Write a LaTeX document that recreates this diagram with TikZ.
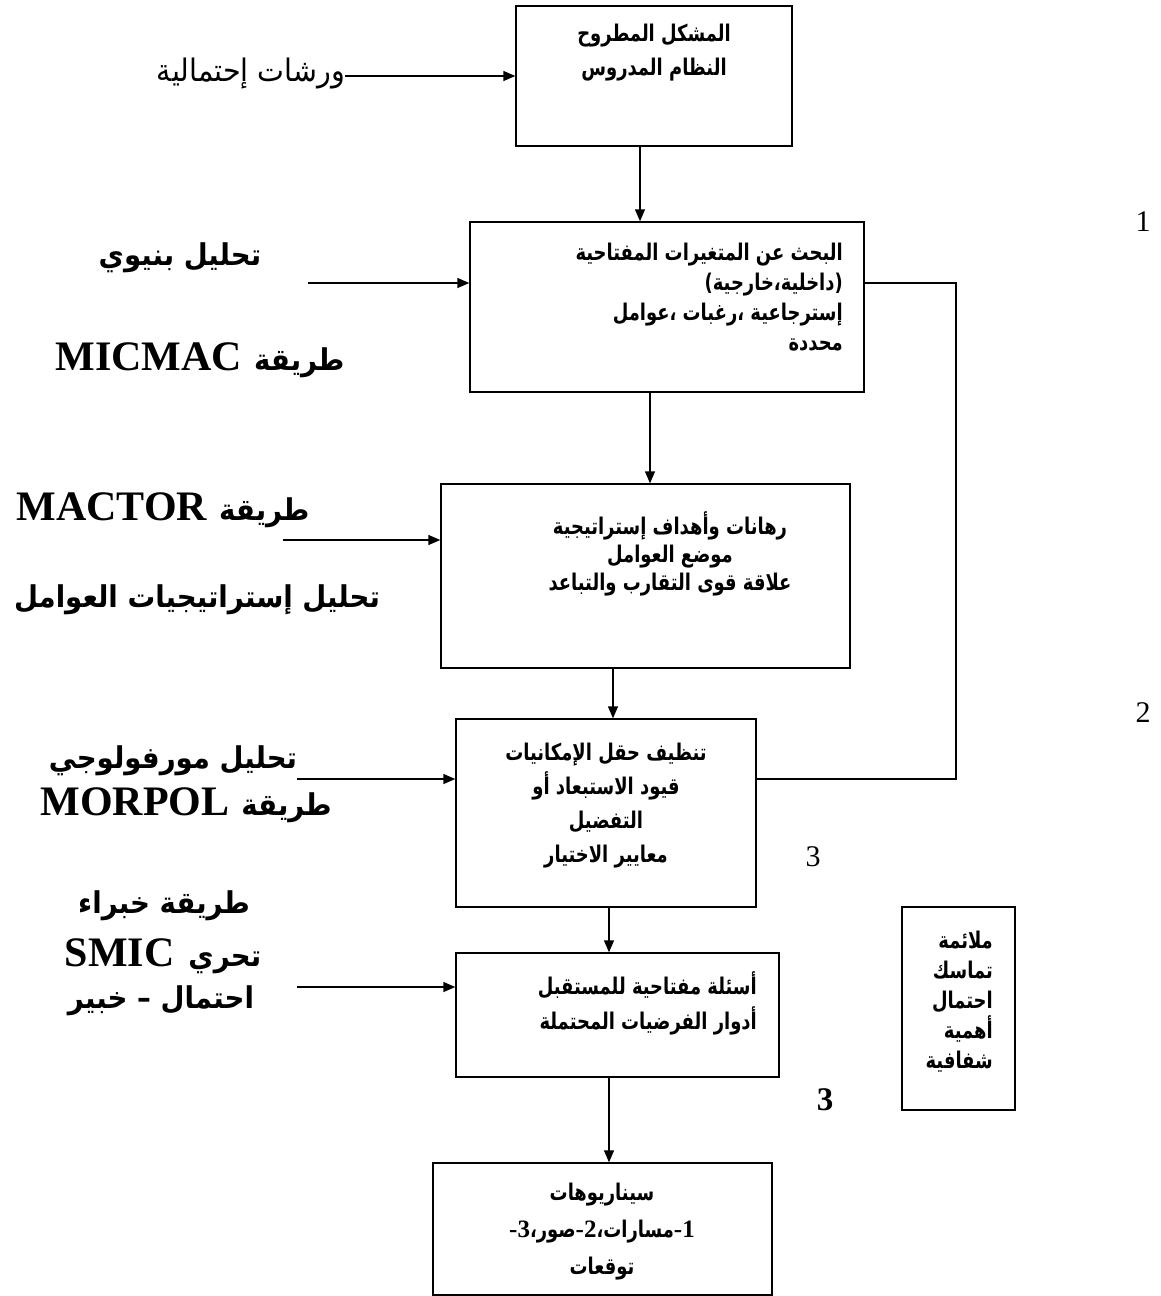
\documentclass[tikz,border=0pt]{standalone}
\usepackage{fontspec}
\usetikzlibrary{arrows.meta}
\TeXXeTstate=1
\setmainfont{Liberation Serif}
\newfontfamily\arf[Script=Arabic,FakeStretch=0.78]{DejaVu Sans}
\newfontfamily\arl[Script=Arabic,FakeStretch=0.92]{DejaVu Sans}
\newfontfamily\latf{Liberation Serif}
\newcommand\rl[1]{\beginR #1\endR}
\begin{document}
\begin{tikzpicture}[x=1pt,y=-1pt,
  box/.style={draw,line width=1.4pt,inner sep=0pt},
  arr/.style={-{Triangle[length=12pt,width=10pt]},line width=1.4pt},
  con/.style={line width=1.4pt},
  btxt/.style={inner sep=0pt},
  lab/.style={font=\arl\bfseries\fontsize{30}{40}\selectfont,inner sep=0pt},
  num/.style={font=\latf\fontsize{30}{30}\selectfont,inner sep=0pt}]
\fill[white] (0,0) rectangle (1161,1296);
\useasboundingbox (0,0) rectangle (1161,1296);

% boxes
\node[box,minimum width=276pt,minimum height=140pt] (b1) at (654,76) {};
\node[box,minimum width=394pt,minimum height=170pt] (b2) at (667,307) {};
\node[box,minimum width=409pt,minimum height=184pt] (b3) at (645.5,576) {};
\node[box,minimum width=300pt,minimum height=188pt] (b4) at (606,813) {};
\node[box,minimum width=323pt,minimum height=124pt] (b5) at (617.5,1015) {};
\node[box,minimum width=339pt,minimum height=132pt] (b6) at (602.5,1229) {};
\node[box,minimum width=113pt,minimum height=203pt] (rb) at (958.5,1008.5) {};

% box texts
\node[btxt,align=center,font=\arf\bfseries\fontsize{23}{34}\selectfont] (t1) at (654,53) {\rl{المشكل المطروح}\\\rl{النظام المدروس}};
\node[btxt,align=right,anchor=east,font=\arf\bfseries\fontsize{23}{30}\selectfont] (t2) at (843,297) {\rl{البحث عن المتغيرات المفتاحية}\\\rl{(داخلية،خارجية)}\\\rl{إسترجاعية ،رغبات ،عوامل}\\\rl{محددة}};
\node[btxt,align=center,font=\arf\bfseries\fontsize{23}{28}\selectfont] (t3) at (670,554) {\rl{رهانات وأهداف إستراتيجية}\\\rl{موضع العوامل}\\\rl{علاقة قوى التقارب والتباعد}};
\node[btxt,align=center,font=\arf\bfseries\fontsize{23}{34}\selectfont] (t4) at (606,806) {\rl{تنظيف حقل الإمكانيات}\\\rl{قيود الاستبعاد أو}\\\rl{التفضيل}\\\rl{معايير الاختيار}};
\node[btxt,align=right,anchor=east,font=\arf\bfseries\fontsize{23}{35}\selectfont] (t5) at (757,1003) {\rl{أسئلة مفتاحية للمستقبل}\\\rl{أدوار الفرضيات المحتملة}};
\node[btxt,align=center,font=\arf\bfseries\fontsize{23}{37}\selectfont] (t6) at (602,1232) {\rl{سيناريوهات}\\{\latf\bfseries\fontsize{25}{25}\selectfont -3}{\arf\bfseries صور،}{\latf\bfseries\fontsize{25}{25}\selectfont -2}{\arf\bfseries مسارات،}{\latf\bfseries\fontsize{25}{25}\selectfont -1}\\\rl{توقعات}};
\node[btxt,align=right,anchor=east,font=\arf\bfseries\fontsize{23}{30}\selectfont] (t7) at (993,1002) {\rl{ملائمة}\\\rl{تماسك}\\\rl{احتمال}\\\rl{أهمية}\\\rl{شفافية}};

% left labels
\node[inner sep=0pt,anchor=east,font=\arl\fontsize{31}{32}\selectfont] (l1) at (345,74) {\rl{ورشات إحتمالية}};
\node[lab] (l2) at (180,258) {\rl{تحليل بنيوي}};
\node[lab] (l3) at (200,360) {{\latf\bfseries\fontsize{42}{44}\selectfont MICMAC}\hspace{12pt}\rl{طريقة}};
\node[lab] (l4) at (163,510) {{\latf\bfseries\fontsize{42}{44}\selectfont MACTOR}\hspace{12pt}\rl{طريقة}};
\node[lab] (l5) at (197,600) {\rl{تحليل إستراتيجيات العوامل}};
\node[lab] (l6) at (173,761) {\rl{تحليل مورفولوجي}};
\node[lab] (l7) at (186,805) {{\latf\bfseries\fontsize{42}{44}\selectfont MORPOL}\hspace{12pt}\rl{طريقة}};
\node[lab] (l8) at (164,906) {\rl{طريقة خبراء}};
\node[lab] (l9) at (163,956) {{\latf\bfseries\fontsize{42}{44}\selectfont SMIC}\hspace{14pt}\rl{تحري}};
\node[lab] (l10) at (161,1001) {\rl{احتمال – خبير}};

% numbers
\node[num] (n1) at (1143,222) {1};
\node[num] (n2) at (1143,713) {2};
\node[num] (n3) at (813,857) {3};
\node[num,font=\latf\bfseries\fontsize{33}{33}\selectfont] (n4) at (825,1100) {3};

% left arrows
\coordinate (s1) at (345,76);
\coordinate (s2) at (308,283);
\coordinate (s3) at (283,540);
\coordinate (s4) at (297,779);
\coordinate (s5) at (297,987);
\draw[arr] (s1) -- (s1 -| b1.west);
\draw[arr] (s2) -- (s2 -| b2.west);
\draw[arr] (s3) -- (s3 -| b3.west);
\draw[arr] (s4) -- (s4 -| b4.west);
\draw[arr] (s5) -- (s5 -| b5.west);

% vertical arrows
\draw[arr] ([xshift=-14pt]b1.south) -- ([xshift=-27pt]b2.north);
\draw[arr] ([xshift=-17pt]b2.south) -- ([xshift=4.5pt]b3.north);
\draw[arr] ([xshift=-32.5pt]b3.south) -- ([xshift=7pt]b4.north);
\draw[arr] ([xshift=3pt]b4.south) -- ([xshift=-8.5pt]b5.north);
\draw[arr] ([xshift=-8.5pt]b5.south) -- ([xshift=6.5pt]b6.north);

% right feedback connector
\coordinate (k1) at (956,283);
\coordinate (k2) at (956,779);
\draw[con] (k1 -| b2.east) -- (k1) -- (k2) -- (k2 -| b4.east);
\end{tikzpicture}
\end{document}
